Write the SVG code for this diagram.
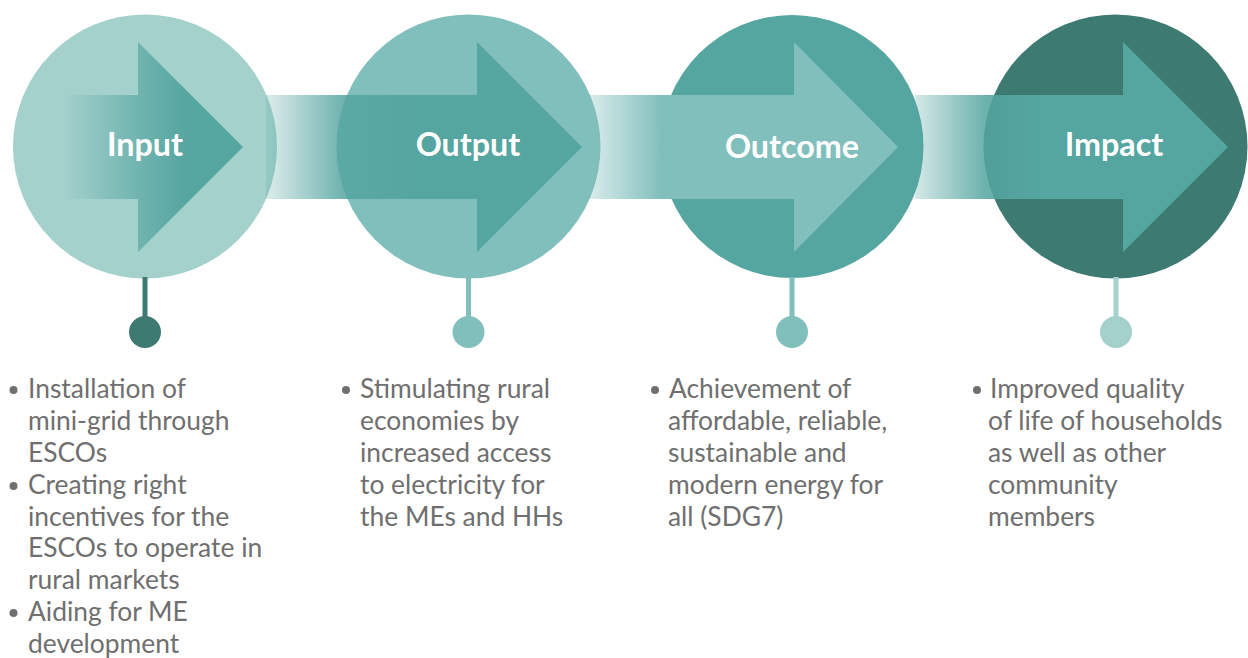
<svg xmlns="http://www.w3.org/2000/svg" width="1248" height="658" viewBox="0 0 1248 658">
<style>
.lbl{font-family:Lato,"Liberation Sans",sans-serif;font-weight:700;font-size:32.3px;fill:#ffffff;text-anchor:middle}
.body{font-family:Lato,"Liberation Sans",sans-serif;font-size:26.4px;fill:#6f6f6f}
.bul{fill:#6f6f6f}
</style>
<defs>
<linearGradient id="g1" gradientUnits="userSpaceOnUse" x1="62" y1="0" x2="243" y2="0">
<stop offset="0" stop-color="#55a5a0" stop-opacity="0"/>
<stop offset="0.45" stop-color="#55a5a0" stop-opacity="0.7"/>
<stop offset="0.7" stop-color="#55a5a0" stop-opacity="1"/>
</linearGradient>
<linearGradient id="g2" gradientUnits="userSpaceOnUse" x1="266" y1="0" x2="420" y2="0">
<stop offset="0" stop-color="#55a5a0" stop-opacity="0.2"/>
<stop offset="0.5" stop-color="#55a5a0" stop-opacity="0.85"/>
<stop offset="1" stop-color="#55a5a0" stop-opacity="1"/>
</linearGradient>
<linearGradient id="g3" gradientUnits="userSpaceOnUse" x1="590" y1="0" x2="680" y2="0">
<stop offset="0" stop-color="#80bfbc" stop-opacity="0.3"/>
<stop offset="0.8" stop-color="#80bfbc" stop-opacity="1"/>
<stop offset="1" stop-color="#80bfbc" stop-opacity="1"/>
</linearGradient>
<linearGradient id="g4" gradientUnits="userSpaceOnUse" x1="915" y1="0" x2="1040" y2="0">
<stop offset="0" stop-color="#55a5a0" stop-opacity="0.25"/>
<stop offset="0.55" stop-color="#55a5a0" stop-opacity="0.85"/>
<stop offset="1" stop-color="#55a5a0" stop-opacity="1"/>
</linearGradient>
</defs>

<g id="node-input">
<circle cx="145" cy="146.5" r="132" fill="#a5d1cd"/>
<path d="M62,95 H138 V42 L243,147 L138,252 V199 H62 Z" fill="url(#g1)"/>
<text class="lbl" x="145" y="156">Input</text>
</g>
<g id="node-output">
<circle cx="468.5" cy="146.5" r="132" fill="#80bfbc"/>
<path d="M266,95 H477 V42 L582,147 L477,252 V199 H266 Z" fill="url(#g2)"/>
<text class="lbl" x="468" y="156">Output</text>
</g>
<g id="node-outcome">
<circle cx="792" cy="146.5" r="131.5" fill="#55a5a0"/>
<path d="M590,95 H794 V42 L898,147 L794,252 V199 H590 Z" fill="url(#g3)"/>
<text class="lbl" x="792" y="158">Outcome</text>
</g>
<g id="node-impact">
<circle cx="1115.5" cy="146.5" r="132" fill="#3d7a72"/>
<path d="M915,95 H1123 V42 L1228,147 L1123,252 V199 H915 Z" fill="url(#g4)"/>
<text class="lbl" x="1114" y="156">Impact</text>
</g>

<g id="connectors">
<rect x="142.5" y="277" width="5" height="55" fill="#3d7a72"/>
<circle cx="145" cy="332" r="16" fill="#3d7a72"/>
<rect x="466" y="277" width="5" height="55" fill="#80bfbc"/>
<circle cx="468.5" cy="332" r="16" fill="#80bfbc"/>
<rect x="789.5" y="277" width="5" height="55" fill="#80bfbc"/>
<circle cx="792" cy="332" r="16" fill="#80bfbc"/>
<rect x="1113.5" y="277" width="5" height="55" fill="#a5d1cd"/>
<circle cx="1116" cy="332" r="16" fill="#a5d1cd"/>
</g>

<g id="text-input">
<circle class="bul" cx="13.5" cy="390" r="4"/>
<circle class="bul" cx="13.5" cy="486" r="4"/>
<circle class="bul" cx="13.5" cy="613" r="4"/>
<text class="body" x="28" y="398">Installation of</text>
<text class="body" x="28" y="430">mini-grid through</text>
<text class="body" x="28" y="462">ESCOs</text>
<text class="body" x="28" y="494">Creating right</text>
<text class="body" x="28" y="526">incentives for the</text>
<text class="body" x="28" y="557">ESCOs to operate in</text>
<text class="body" x="28" y="589">rural markets</text>
<text class="body" x="28" y="621">Aiding for ME</text>
<text class="body" x="28" y="653">development</text>
</g>
<g id="text-output">
<circle class="bul" cx="346" cy="390" r="4"/>
<text class="body" x="360" y="398">Stimulating rural</text>
<text class="body" x="360" y="430">economies by</text>
<text class="body" x="360" y="462">increased access</text>
<text class="body" x="360" y="494">to electricity for</text>
<text class="body" x="360" y="526">the MEs and HHs</text>
</g>
<g id="text-outcome">
<circle class="bul" cx="655" cy="390" r="4"/>
<text class="body" x="669" y="398">Achievement of</text>
<text class="body" x="668" y="430">affordable, reliable,</text>
<text class="body" x="668" y="462">sustainable and</text>
<text class="body" x="668" y="494">modern energy for</text>
<text class="body" x="668" y="526">all (SDG7)</text>
</g>
<g id="text-impact">
<circle class="bul" cx="977" cy="390" r="4"/>
<text class="body" x="990" y="398">Improved quality</text>
<text class="body" x="988" y="430">of life of households</text>
<text class="body" x="988" y="462">as well as other</text>
<text class="body" x="988" y="494">community</text>
<text class="body" x="988" y="526">members</text>
</g>
</svg>
